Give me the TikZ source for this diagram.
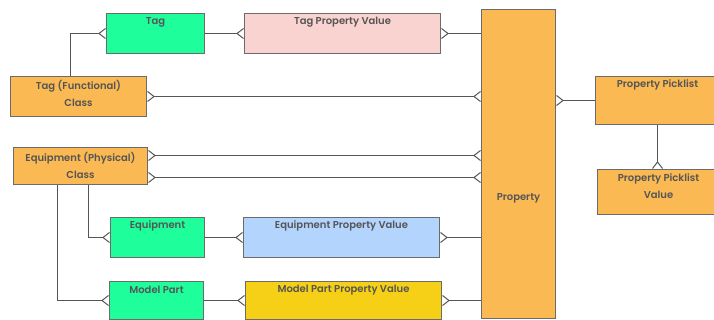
\documentclass[tikz,border=0pt]{standalone}
\usepackage{fontspec}
\setmainfont{Poppins}[UprightFont=* SemiBold]
\usetikzlibrary{arrows.meta}

\definecolor{entgreen}{HTML}{1EFF9C}
\definecolor{entorange}{HTML}{FBB954}
\definecolor{entpink}{HTML}{F9D3CF}
\definecolor{entblue}{HTML}{B3D4FC}
\definecolor{entyellow}{HTML}{F6D016}
\definecolor{edgegray}{HTML}{6B6B6B}
\definecolor{linegray}{HTML}{555555}
\definecolor{textgray}{HTML}{555555}

\tikzset{
  entity/.style={draw=edgegray, line width=1pt, rectangle, inner sep=0pt, anchor=north west},
  lbl/.style={text=textgray, font=\fontsize{10}{17}\selectfont, align=center, inner sep=0pt},
  crow/.tip={Straight Barb[reversed, length=6.5pt, width=10pt, line width=1pt]},
  rel/.style={draw=linegray, line width=1.2pt},
  crowend/.style={rel, -crow},
  crowstart/.style={rel, crow-},
  crowboth/.style={rel, crow-crow},
}

\begin{document}
\begin{tikzpicture}[x=1pt, y=-1pt]
\useasboundingbox (0,0) rectangle (714,320);

% entity boxes
\node[entity, fill=entgreen,  minimum width=98,  minimum height=40] (tag) at (106,13) {};
\node[entity, fill=entpink,   minimum width=196, minimum height=40] (tpv) at (244,13) {};
\node[entity, fill=entorange, minimum width=136, minimum height=40] (tfc) at (10,76) {};
\node[entity, fill=entorange, minimum width=74,  minimum height=309] (prop) at (481,9) {};
\node[entity, fill=entorange, minimum width=124, minimum height=48] (ppl) at (595,76) {};
\node[entity, fill=entorange, minimum width=122, minimum height=45] (ppv) at (597,169) {};
\node[entity, fill=entorange, minimum width=134, minimum height=37] (ecl) at (13,147) {};
\node[entity, fill=entgreen,  minimum width=94,  minimum height=40] (equ) at (110,217) {};
\node[entity, fill=entblue,   minimum width=196, minimum height=40] (epv) at (243,217) {};
\node[entity, fill=entgreen,  minimum width=94,  minimum height=38] (mp)  at (109,281) {};
\node[entity, fill=entyellow, minimum width=196, minimum height=38] (mpv) at (245,281) {};

% labels
\node[lbl] (tagL)  at ([yshift=-9]tag.north) {Tag};
\node[lbl] (tpvL)  at ([yshift=-9]tpv.north) {Tag Property Value};
\node[lbl] (tfcL)  at ([yshift=-17.5]tfc.north) {Tag (Functional)\\Class};
\node[lbl] (propL) at ([yshift=-189]prop.north) {Property};
\node[lbl] (pplL)  at ([yshift=-9]ppl.north) {Property Picklist};
\node[lbl] (ppvL)  at ([yshift=-17.5]ppv.north) {Property Picklist\\Value};
\node[lbl] (eclL)  at ([yshift=-18]ecl.north) {Equipment (Physical)\\Class};
\node[lbl] (equL)  at ([yshift=-9]equ.north) {Equipment};
\node[lbl] (epvL)  at ([yshift=-9]epv.north) {Equipment Property Value};
\node[lbl] (mpL)   at ([yshift=-9]mp.north) {Model Part};
\node[lbl] (mpvL)  at ([yshift=-9]mpv.north) {Model Part Property Value};

% relationships
\draw[crowend]   ([xshift=-8]tfc.north) |- (tag.west);
\draw[crowend]   (tag.east) -- (tpv.west);
\draw[crowstart] (tpv.east) -- (tpv.east -| prop.west);
\draw[crowboth]  (tfc.east) -- (tfc.east -| prop.west);
\draw[crowstart] (ppl.west -| prop.east) -- (ppl.west);
\draw[crowend]   (ppl.south) -- (ppl.south |- ppv.north);
\draw[crowboth]  ([yshift=10.5]ecl.east) -- ([yshift=10.5]ecl.east -| prop.west);
\draw[crowboth]  ([yshift=-11.5]ecl.east) -- ([yshift=-11.5]ecl.east -| prop.west);
\draw[crowend]   ([xshift=8]ecl.south) |- (equ.west);
\draw[crowend]   ([xshift=-23]ecl.south) |- (mp.west);
\draw[crowend]   (equ.east) -- (epv.west);
\draw[crowstart] (epv.east) -- (epv.east -| prop.west);
\draw[crowend]   (mp.east) -- (mpv.west);
\draw[crowstart] (mpv.east) -- (mpv.east -| prop.west);
\end{tikzpicture}
\end{document}
